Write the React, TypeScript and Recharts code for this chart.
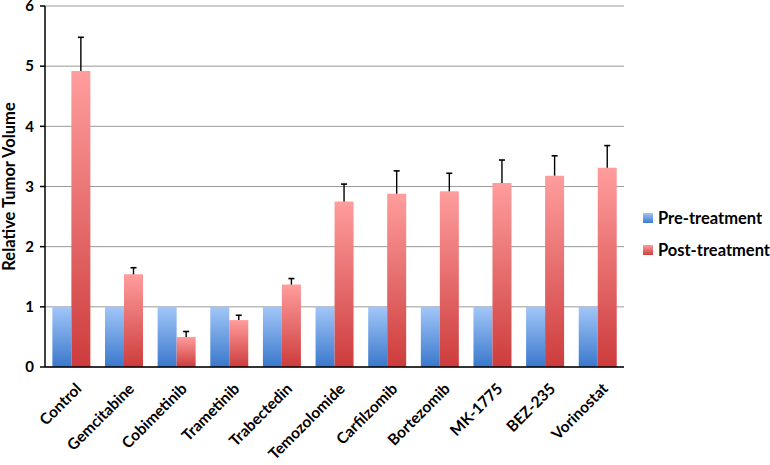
import React from 'react';
import { BarChart, Bar, XAxis, YAxis, CartesianGrid, Legend } from 'recharts';

const categories = ['Control', 'Gemcitabine', 'Cobimetinib', 'Trametinib', 'Trabectedin', 'Temozolomide', 'Carfilzomib', 'Bortezomib', 'MK-1775', 'BEZ-235', 'Vorinostat'];
const preValues = [1, 1, 1, 1, 1, 1, 1, 1, 1, 1, 1];
const postValues = [4.92, 1.54, 0.5, 0.78, 1.37, 2.75, 2.88, 2.92, 3.06, 3.18, 3.31];
const postErrors = [0.56, 0.11, 0.09, 0.08, 0.1, 0.29, 0.38, 0.3, 0.38, 0.33, 0.37];
const yTicks = [0, 1, 2, 3, 4, 5, 6];
const boundaryTicks = categories.map((_, i) => i).concat([categories.length]);

const data = categories.map((name, i) => ({
  name,
  pre: preValues[i],
  post: postValues[i],
  err: postErrors[i],
}));

const FONT = 'Lato, "Open Sans", sans-serif';

const ErrorShape = (props: any) => {
  const { x, y, width, height } = props;
  if (x == null || y == null) return null;
  const cx = Number(x) + Number(width) / 2;
  const top = Number(y);
  const bottom = top + Number(height);
  return (
    <g>
      <line x1={cx} y1={top} x2={cx} y2={bottom} stroke="#000" strokeWidth={1.4} />
      <line x1={cx - 3} y1={top} x2={cx + 3} y2={top} stroke="#000" strokeWidth={1.6} />
    </g>
  );
};

const LegendContent = () => (
  <div style={{ fontFamily: FONT, fontWeight: 'bold', fontSize: 16.5, color: '#000', whiteSpace: 'nowrap' }}>
    {[
      { label: 'Pre-treatment', grad: 'linear-gradient(#9fc4f6, #3d7bcf)' },
      { label: 'Post-treatment', grad: 'linear-gradient(#fc9b9b, #cf4040)' },
    ].map((it) => (
      <div key={it.label} style={{ display: 'flex', alignItems: 'center', height: 32 }}>
        <span style={{ display: 'inline-block', width: 10, height: 10, background: it.grad, marginRight: 5 }} />
        <span>{it.label}</span>
      </div>
    ))}
  </div>
);

export default function App() {
  return (
    <div style={{ position: 'absolute', left: 0, top: 0, width: 770, height: 465, background: '#fff' }}>
      <BarChart
        width={770}
        height={465}
        data={data}
        margin={{ top: 6, right: 146, left: 0, bottom: 0 }}
        barCategoryGap="14%"
        barGap={0}
      >
        <defs>
          <linearGradient id="gPre" x1="0" y1="0" x2="0" y2="1">
            <stop offset="0%" stopColor="#a2c6f8" />
            <stop offset="100%" stopColor="#3a78cc" />
          </linearGradient>
          <linearGradient id="gPost" x1="0" y1="0" x2="0" y2="1">
            <stop offset="0%" stopColor="#ff9d9d" />
            <stop offset="100%" stopColor="#cd3c3c" />
          </linearGradient>
        </defs>
        <CartesianGrid vertical={false} stroke="#9a9a9a" strokeWidth={1} />
        <XAxis
          xAxisId="bounds"
          type="number"
          domain={[0, categories.length]}
          allowDataOverflow
          ticks={boundaryTicks}
          interval={0}
          height={0}
          tick={false}
          tickSize={5}
          axisLine={false}
          tickLine={{ stroke: '#000', strokeWidth: 1.5 }}
        />
        <XAxis
          dataKey="name"
          interval={0}
          height={98}
          angle={-45}
          tickSize={0}
          tickMargin={15}
          tickLine={false}
          tick={{ fill: '#000', fontFamily: FONT, fontWeight: 'bold', fontSize: 15.5, textAnchor: 'end', dx: 3.5 }}
          axisLine={{ stroke: '#000', strokeWidth: 1.5 }}
        />
        <YAxis
          width={45}
          domain={[0, 6]}
          ticks={yTicks}
          interval={0}
          tickSize={5}
          tickMargin={6}
          axisLine={{ stroke: '#000', strokeWidth: 1.5 }}
          tickLine={{ stroke: '#000', strokeWidth: 1.5 }}
          tick={{ fill: '#000', fontFamily: FONT, fontWeight: 'bold', fontSize: 15 }}
          label={{
            value: 'Relative Tumor Volume',
            angle: -90,
            position: 'insideLeft',
            dx: 4,
            dy: 0,
            style: { fill: '#000', fontFamily: FONT, fontWeight: 'bold', fontSize: 16.5, textAnchor: 'middle' },
          }}
        />
        <Legend
          layout="horizontal"
          verticalAlign="middle"
          align="center"
          content={<LegendContent />}
          wrapperStyle={{ left: 643, top: 202, width: 127 }}
        />
        <Bar dataKey="pre" name="Pre-treatment" stackId="a" fill="url(#gPre)" isAnimationActive={false} />
        <Bar dataKey="post" name="Post-treatment" stackId="b" fill="url(#gPost)" isAnimationActive={false} />
        <Bar dataKey="err" stackId="b" fill="none" legendType="none" shape={<ErrorShape />} isAnimationActive={false} />
      </BarChart>
    </div>
  );
}
